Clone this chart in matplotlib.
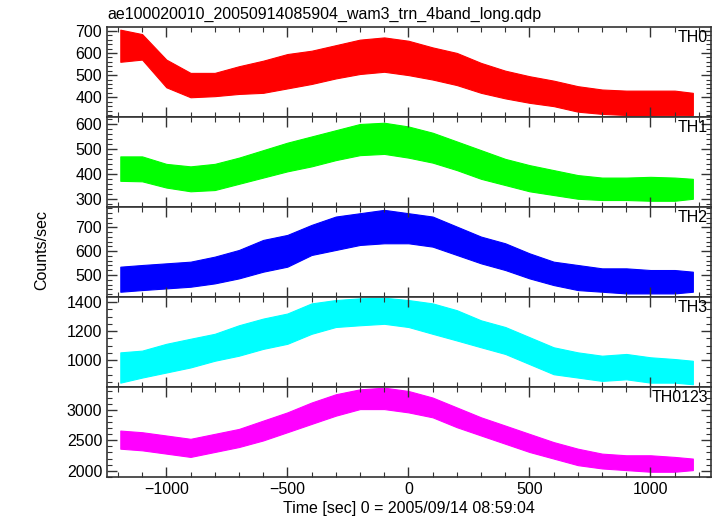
import matplotlib
matplotlib.use("Agg")
import matplotlib.pyplot as plt
from matplotlib.ticker import MultipleLocator, AutoMinorLocator

plt.rcParams['font.family'] = ['Liberation Sans', 'DejaVu Sans']

title = "ae100020010_20050914085904_wam3_trn_4band_long.qdp"
xlabel = "Time [sec] 0 = 2005/09/14 08:59:04"
ylabel = "Counts/sec"

# time samples (sec) at which the band envelope was read
times = [-1190, -1100, -1000, -900, -800, -700, -600, -500, -400, -300, -200, -100,
         0, 100, 200, 300, 400, 500, 600, 700, 800, 900, 1000, 1100, 1175]

names = ["TH0", "TH1", "TH2", "TH3", "TH0123"]
colors = ["#ff0000", "#00ff00", "#0000ff", "#00ffff", "#ff00ff"]

th0_low = [560, 570, 445, 400, 405, 415, 420, 440, 460, 485, 505, 515,
           500, 480, 455, 420, 395, 375, 360, 335, 325, 320, 320, 318, 320]
th0_high = [705, 685, 570, 510, 510, 540, 565, 595, 610, 635, 660, 670,
            655, 625, 600, 555, 520, 495, 475, 450, 435, 430, 430, 430, 420]

th1_low = [372, 370, 345, 330, 335, 360, 385, 410, 430, 455, 475, 480,
           465, 445, 415, 380, 355, 330, 315, 300, 295, 295, 292, 292, 300]
th1_high = [470, 470, 440, 430, 440, 465, 495, 525, 550, 575, 600, 605,
            590, 565, 530, 495, 460, 435, 415, 395, 385, 385, 388, 385, 380]

th2_low = [430, 437, 444, 451, 465, 486, 514, 535, 584, 605, 626, 633,
           633, 619, 584, 549, 521, 486, 458, 437, 430, 423, 423, 423, 430]
th2_high = [535, 542, 549, 556, 577, 605, 647, 668, 710, 745, 759, 773,
            759, 745, 703, 661, 633, 591, 556, 542, 528, 528, 521, 521, 514]

th3_low = [844, 879, 914, 949, 995, 1030, 1077, 1112, 1181, 1228, 1240, 1250,
           1228, 1181, 1135, 1088, 1042, 972, 902, 879, 856, 867, 844, 844, 833]
th3_high = [1053, 1065, 1112, 1147, 1181, 1240, 1286, 1321, 1391, 1414, 1426, 1430,
            1414, 1391, 1344, 1274, 1228, 1158, 1088, 1053, 1030, 1042, 1019, 1007, 995]

th0123_low = [2362, 2335, 2281, 2227, 2308, 2389, 2497, 2632, 2768, 2903, 3011, 3011,
              2957, 2876, 2714, 2578, 2443, 2308, 2200, 2092, 2038, 2011, 1984, 1984, 2011]
th0123_high = [2659, 2632, 2578, 2524, 2605, 2686, 2822, 2957, 3119, 3254, 3335, 3362,
               3308, 3200, 3038, 2876, 2741, 2605, 2470, 2362, 2281, 2254, 2254, 2227, 2200]

lows = [th0_low, th1_low, th2_low, th3_low, th0123_low]
highs = [th0_high, th1_high, th2_high, th3_high, th0123_high]

ylims = [(311, 717), (267, 628), (408, 785), (814, 1435), (1898, 3373)]
ymajor = [100, 100, 100, 200, 500]
yminor = [5, 5, 5, 4, 5]

fig = plt.figure(figsize=(7.17, 5.16), dpi=100)
gs = fig.add_gridspec(5, 1, left=107/717, right=711/717, top=1-27/516, bottom=1-477/516, hspace=0)
axes = [fig.add_subplot(gs[i]) for i in range(5)]
frame = "#333333"
for i, ax in enumerate(axes):
    ax.fill_between(times, lows[i], highs[i], color=colors[i], linewidth=0.8, edgecolor=colors[i])
    ax.set_xlim(-1245, 1250)
    ax.set_ylim(*ylims[i])
    ax.xaxis.set_major_locator(MultipleLocator(500))
    ax.xaxis.set_minor_locator(MultipleLocator(100))
    ax.yaxis.set_major_locator(MultipleLocator(ymajor[i]))
    ax.yaxis.set_minor_locator(AutoMinorLocator(yminor[i]))
    ax.tick_params(which='both', direction='in', top=True, right=True, colors=frame,
                   labelcolor='black', labelsize=11.5)
    ax.tick_params(which='major', length=7, width=1)
    ax.tick_params(which='minor', length=3.5, width=0.8)
    for s in ax.spines.values():
        s.set_color(frame)
        s.set_linewidth(1.2)
    ax.text(0.995, 0.97, names[i], transform=ax.transAxes, ha='right', va='top', fontsize=11.5)
    if i < 4:
        ax.tick_params(labelbottom=False)

axes[0].set_title(title, loc='left', fontsize=11.5, pad=6)
axes[-1].set_xlabel(xlabel, fontsize=11.5, labelpad=3)
fig.text(42/717, 1-250/516, ylabel, rotation=90, ha='center', va='center', fontsize=11.5)

fig.savefig("out.png", dpi=100)
